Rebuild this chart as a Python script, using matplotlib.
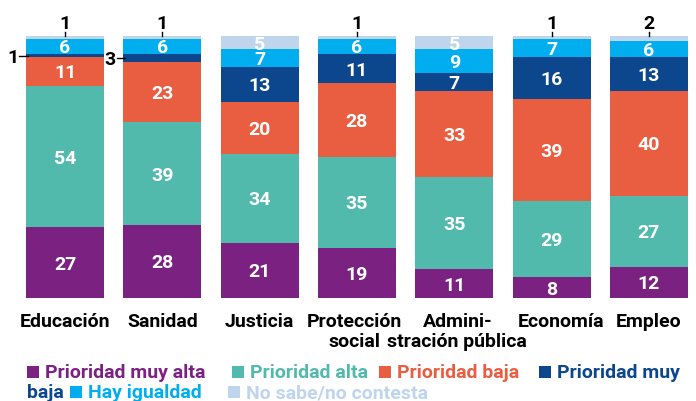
import matplotlib
matplotlib.use("Agg")
import matplotlib.pyplot as plt
from matplotlib.patches import Rectangle

plt.rcParams['font.family'] = ['Roboto', 'DejaVu Sans']

categories = ["Educación", "Sanidad", "Justicia", "Protección\nsocial",
              "Admini-\nstración pública", "Economía", "Empleo"]
series_names = ["Prioridad muy alta", "Prioridad alta", "Prioridad baja",
                "Prioridad muy baja", "Hay igualdad", "No sabe/no contesta"]
muy_alta = [27, 28, 21, 19, 11, 8, 12]
alta = [54, 39, 34, 35, 35, 29, 27]
baja = [11, 23, 20, 28, 33, 39, 40]
muy_baja = [1, 3, 13, 11, 7, 16, 13]
igualdad = [6, 6, 7, 6, 9, 7, 6]
no_sabe = [1, 1, 5, 1, 5, 1, 2]
colors = ["#7B2181", "#52B9AD", "#E95D40", "#0C468C", "#00AEEF", "#BFD5EC"]

series = [muy_alta, alta, baja, muy_baja, igualdad, no_sabe]

W, H = 696, 401
FS = 14
fig = plt.figure(figsize=(W / 100, H / 100), dpi=100)
top_px, bot_px = 36, 298
c0, step = 65, 97.33
ax = fig.add_axes([0, (H - bot_px) / H, 1, (bot_px - top_px) / H])
ax.set_xlim((0 - c0) / step, (W - c0) / step)
ax.set_ylim(0, 100)
ax.axis('off')
ppx = 100 / (bot_px - top_px)  # data units per pixel

x = list(range(len(categories)))
bottom = [0] * len(categories)
for si, (vals, col) in enumerate(zip(series, colors)):
    ax.bar(x, vals, bottom=bottom, width=0.8, color=col, linewidth=0)
    for i, v in enumerate(vals):
        cy = bottom[i] + v / 2
        if v >= 4:
            ax.text(i, cy, str(v), ha='center', va='center_baseline', color='white',
                    fontsize=FS, fontweight='bold')
        elif si == 5:
            ax.plot([i, i], [100, 101.6], color='black', lw=1, clip_on=False)
            ax.text(i, 102.8, str(v), ha='center', va='baseline', color='black',
                    fontsize=FS, fontweight='bold')
        else:
            ax.plot([i - 0.38, i - 0.47], [cy, cy], color='black', lw=1, clip_on=False)
            ax.text(i - 0.475, cy, str(v), ha='right', va='center_baseline', color='black',
                    fontsize=FS, fontweight='bold')
    bottom = [b + v for b, v in zip(bottom, vals)]

label_shift = [0, 0, 0, -0.03, 0.03, 0.1, 0]
for i, c in enumerate(categories):
    for li, line in enumerate(c.split("\n")):
        ax.text(i + label_shift[i], -(327 + 20 * li - bot_px) * ppx, line,
                ha='center', va='baseline', fontsize=FS, fontweight='bold',
                color='black')

# legend (manual, wrapped on two lines)
def item(px, base, s, col, square=True):
    if square:
        fig.add_artist(Rectangle((px / W, 1 - base / H), 12 / W, 12 / H,
                                 transform=fig.transFigure, color=col, lw=0))
        tx = px + 18
    else:
        tx = px
    fig.text(tx / W, 1 - base / H, s, ha='left', va='baseline', color=col,
             fontsize=FS, fontweight='bold')

item(27, 378, series_names[0], colors[0])
item(232, 378, series_names[1], colors[1])
item(379, 378, series_names[2], colors[2])
item(539, 378, "Prioridad muy", colors[3])
item(27, 398, "baja", colors[3], square=False)
item(70, 398, series_names[4], colors[4])
item(228, 398, series_names[5], colors[5])

fig.savefig("out.png", dpi=100)
